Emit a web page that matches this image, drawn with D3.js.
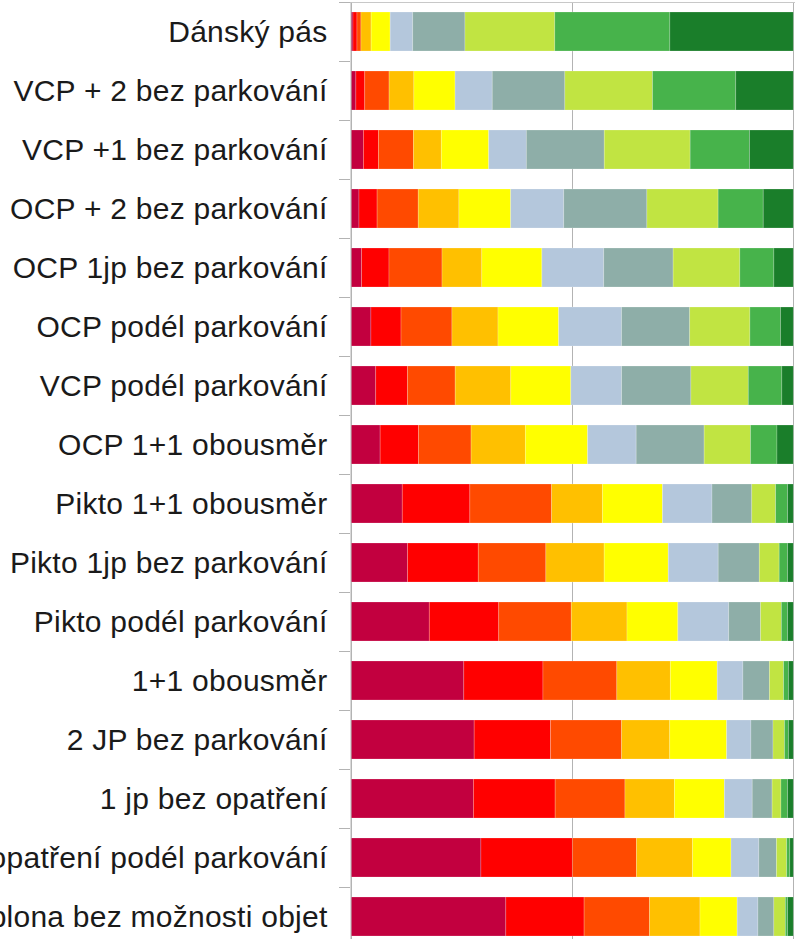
<!DOCTYPE html>
<html>
<head>
<meta charset="utf-8">
<script src="https://cdn.jsdelivr.net/npm/d3@7"></script>
<style>
    body { margin: 0; background: #fff; }
</style>
</head>
<body>
<div id="chart"></div>
<script>
// categories, top to bottom
const categories = [
    "Dánský pás",
    "VCP + 2 bez parkování",
    "VCP +1 bez parkování",
    "OCP + 2 bez parkování",
    "OCP 1jp bez parkování",
    "OCP podél parkování",
    "VCP podél parkování",
    "OCP 1+1 obousměr",
    "Pikto 1+1 obousměr",
    "Pikto 1jp bez parkování",
    "Pikto podél parkování",
    "1+1 obousměr",
    "2 JP bez parkování",
    "1 jp bez opatření",
    "opatření podél parkování",
    "plona bez možnosti objet"
]

// shares (%) per series, one value per category
const s1 = [0.45, 1.1, 2.8, 1.8, 2.4, 4.5, 5.6, 6.6, 11.6, 12.8, 17.7, 25.5, 27.9, 27.7, 29.4, 35.0]
const s2 = [0.9, 2.0, 3.4, 4.1, 6.2, 6.8, 7.2, 8.7, 15.3, 16.0, 15.7, 17.9, 17.3, 18.5, 20.7, 17.7]
const s3 = [0.9, 5.5, 7.9, 9.3, 12.0, 11.5, 10.8, 11.9, 18.5, 15.3, 16.4, 16.7, 16.1, 15.8, 14.5, 14.8]
const s4 = [2.3, 5.6, 6.3, 9.2, 9.0, 10.4, 12.6, 12.3, 11.5, 13.2, 12.6, 12.1, 10.9, 11.2, 12.7, 11.4]
const s5 = [4.3, 9.3, 10.7, 11.7, 13.6, 13.7, 13.6, 14.1, 13.6, 14.5, 11.5, 10.6, 12.9, 11.3, 8.7, 8.4]
const s6 = [5.1, 8.4, 8.5, 12.0, 14.0, 14.2, 11.5, 11.0, 11.2, 11.3, 11.5, 5.8, 5.5, 6.3, 6.3, 4.7]
const s7 = [11.8, 16.4, 17.6, 18.8, 15.7, 15.4, 15.7, 15.4, 9.0, 9.3, 7.2, 6.0, 5.0, 4.5, 4.0, 3.6]
const s8 = [20.3, 19.8, 19.4, 16.1, 15.1, 13.6, 13.0, 10.5, 5.4, 4.5, 4.7, 3.2, 2.6, 2.0, 2.3, 2.6]
const s9 = [26.0, 18.8, 13.4, 10.2, 7.7, 6.9, 7.6, 6.0, 2.7, 1.9, 1.4, 1.1, 0.9, 1.5, 0.7, 0.5]
const s10 = [27.9, 13.0, 9.9, 6.8, 4.4, 2.9, 2.6, 3.7, 1.3, 1.3, 1.3, 1.1, 1.1, 1.3, 0.8, 1.3]

const seriesKeys = ["s1", "s2", "s3", "s4", "s5", "s6", "s7", "s8", "s9", "s10"]
const seriesValues = [s1, s2, s3, s4, s5, s6, s7, s8, s9, s10]
const colors = ["#c2003f", "#ff0000", "#ff4a00", "#ffc000", "#ffff00",
    "#b4c7dc", "#8eaea8", "#c1e442", "#47b34b", "#1a7e2a"]

const xTicks = [0, 0.5, 1]

let width = 795,
    height = 939

let svg = d3.select('#chart')
    .append('svg')
    .attr("width", width)
    .attr("height", height)
    .style("display", "block")

// table for d3.stack
let table = categories.map(function (c, i) {
    let row = { category: c }
    seriesKeys.forEach(function (k, j) { row[k] = seriesValues[j][i] })
    return row
})

let stacked = d3.stack()
    .keys(seriesKeys)
    .offset(d3.stackOffsetExpand)(table)

let x = d3.scaleLinear().domain([0, 1]).range([351, 793.3])

let y = d3.scaleBand()
    .domain(categories)
    .range([2, 2 + 59 * categories.length])
    .paddingInner(20 / 59)
    .paddingOuter(10 / 59)

let color = d3.scaleOrdinal().domain(seriesKeys).range(colors)

// vertical gridlines
svg.append("g")
    .selectAll("line")
    .data(xTicks)
    .enter().append("line")
    .attr("x1", function (d) { return Math.round(x(d)) + 0.5 })
    .attr("x2", function (d) { return Math.round(x(d)) + 0.5 })
    .attr("y1", 2)
    .attr("y2", height)
    .attr("stroke", "#b3b3b3")
    .attr("stroke-width", 1)

// top border
svg.append("line")
    .attr("x1", 340)
    .attr("x2", width)
    .attr("y1", 2.5)
    .attr("y2", 2.5)
    .attr("stroke", "#c8c8c8")

// bars
svg.append("g")
    .selectAll("g")
    .data(stacked)
    .enter().append("g")
    .attr("fill", function (d) { return color(d.key) })
    .selectAll("rect")
    .data(function (d) { return d })
    .enter().append("rect")
    .attr("x", function (d) { return x(d[0]) })
    .attr("width", function (d) { return x(d[1]) - x(d[0]) })
    .attr("y", function (d) { return y(d.data.category) })
    .attr("height", y.bandwidth())
    .attr("stroke", "#ffffff")
    .attr("stroke-opacity", 0.25)
    .attr("stroke-width", 0.8)

// left axis
let yAxis = d3.axisLeft(y).tickSize(0).tickPadding(23)

let axisG = svg.append("g")
    .attr("transform", "translate(350.5,0)")
    .call(yAxis)

axisG.select(".domain").attr("stroke", "#b3b3b3")
axisG.selectAll("text")
    .attr("font-family", "'Liberation Sans', Arial, sans-serif")
    .attr("font-size", 30)
    .attr("letter-spacing", "0.25px")
    .attr("fill", "#1a1a1a")
    .attr("dy", "0.35em")

// tick marks between categories
svg.append("g")
    .selectAll("line")
    .data(d3.range(categories.length + 1))
    .enter().append("line")
    .attr("x1", 339)
    .attr("x2", 350)
    .attr("y1", function (i) { return 2.5 + 59 * i })
    .attr("y2", function (i) { return 2.5 + 59 * i })
    .attr("stroke", "#b3b3b3")
</script>
</body>
</html>
